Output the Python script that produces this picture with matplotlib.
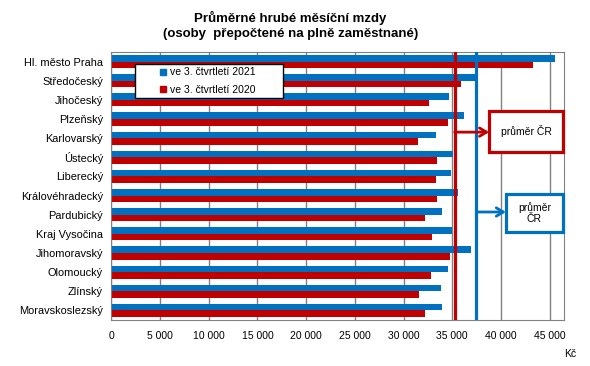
import matplotlib.pyplot as plt
import numpy as np
from matplotlib.lines import Line2D
from matplotlib.patches import Rectangle

plt.rcParams['font.family'] = ['Liberation Sans', 'DejaVu Sans']

# --- Data ---
regions = ['Hl. město Praha', 'Středočeský', 'Jihočeský', 'Plzeňský', 'Karlovarský',
           'Ústecký', 'Liberecký', 'Královéhradecký', 'Pardubický', 'Kraj Vysočina',
           'Jihomoravský', 'Olomoucký', 'Zlínský', 'Moravskoslezský']
wage_2021 = [45550, 37400, 34660, 36200, 33330, 35070, 34860,
             35560, 33940, 34970, 36920, 34560, 33840, 33940]
wage_2020 = [43290, 35900, 32600, 34560, 31480, 33430, 33330,
             33430, 32200, 32920, 34770, 32820, 31580, 32200]
avg_2021 = 37450
avg_2020 = 35250
xticks = np.arange(0, 45001, 5000)

blue = '#0070C0'
red = '#C00000'

fig = plt.figure(figsize=(5.9, 3.66), dpi=100)
ax = fig.add_axes([0.1887, 0.1257, 0.7678, 0.7322])

y = np.arange(len(regions))
h = 0.34
ax.barh(y - h / 2, wage_2021, height=h, color=blue, zorder=2)
ax.barh(y + h / 2, wage_2020, height=h, color=red, zorder=2)

ax.set_ylim(len(regions) - 0.5, -0.5)
ax.set_xlim(0, 46500)
ax.set_xticks(xticks)
ax.set_xticklabels([f'{v:,}'.replace(',', ' ') for v in xticks], fontsize=7.5)
ax.set_yticks(y)
ax.set_yticklabels(regions, fontsize=7.9)
ax.tick_params(axis='y', length=0, pad=6)
ax.tick_params(axis='x', length=0, pad=8)
ax.grid(axis='x', color='#808080', linewidth=1.0, zorder=0)
for s in ax.spines.values():
    s.set_color('#808080')

# průměrné linie
ax.axvline(avg_2020, color=red, linewidth=2.3, zorder=3)
ax.axvline(avg_2021, color=blue, linewidth=2.3, zorder=3)

# popisky průměrů
ax.add_patch(Rectangle((0.834, 0.627), 0.163, 0.153, transform=ax.transAxes,
                       facecolor='white', edgecolor=red, linewidth=2.3,
                       clip_on=False, zorder=5))
ax.text(0.9155, 0.7035, 'průměr ČR', transform=ax.transAxes, ha='center',
        va='center', fontsize=7.5, zorder=6)
ax.add_patch(Rectangle((0.871, 0.328), 0.126, 0.142, transform=ax.transAxes,
                       facecolor='white', edgecolor=blue, linewidth=2.3,
                       clip_on=False, zorder=5))
ax.text(0.934, 0.399, 'průměr\nČR', transform=ax.transAxes, ha='center',
        va='center', fontsize=7.5, linespacing=1.1, zorder=6)

ax.annotate('', xy=(0.834, 0.701), xycoords='axes fraction',
            xytext=(avg_2020, 0.701), textcoords=('data', 'axes fraction'),
            arrowprops=dict(arrowstyle='->,head_length=0.5,head_width=0.3',
                            color=red, lw=2.0, shrinkA=0, shrinkB=0), zorder=4)
ax.annotate('', xy=(0.871, 0.403), xycoords='axes fraction',
            xytext=(avg_2021, 0.403), textcoords=('data', 'axes fraction'),
            arrowprops=dict(arrowstyle='->,head_length=0.5,head_width=0.3',
                            color=blue, lw=2.0, shrinkA=0, shrinkB=0), zorder=4)

# legenda
handles = [Line2D([], [], marker='s', linestyle='none', color=blue, markersize=5),
           Line2D([], [], marker='s', linestyle='none', color=red, markersize=5)]
leg = ax.legend(handles, ['ve 3. čtvrtletí 2021', 've 3. čtvrtletí 2020'],
                loc='upper left', bbox_to_anchor=(0.052, 0.825, 0.327, 0.13),
                mode='expand', fontsize=7.5,
                fancybox=False, edgecolor='black', framealpha=1,
                borderaxespad=0, handlelength=4.75, handletextpad=-1.7,
                labelspacing=0.73, borderpad=0.32)
leg.get_frame().set_linewidth(1.0)
leg.set_zorder(7)

fig.text(0.492, 0.930, 'Průměrné hrubé měsíční mzdy\n(osoby  přepočtené na plně zaměstnané)',
         ha='center', va='center', fontsize=9.5, fontweight='bold', linespacing=1.35)
fig.text(0.966, 0.033, 'Kč', ha='center', va='center', fontsize=7.5)

fig.savefig('out.png', dpi=100)
